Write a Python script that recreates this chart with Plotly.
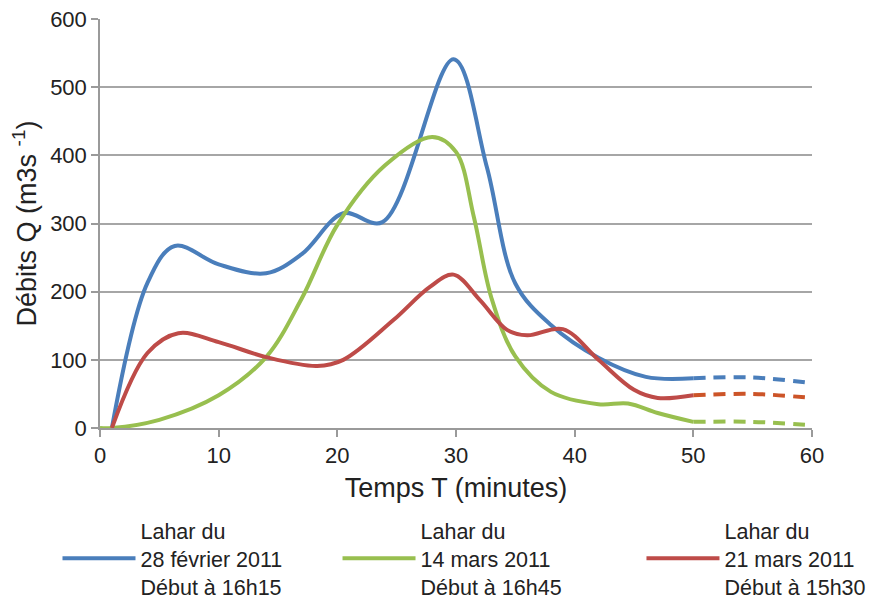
import plotly.graph_objects as go

# ---- data ----
t_blue = [1, 4, 6.3, 10, 14, 17, 20.5, 23.8, 29.8, 32.6, 35, 38, 42, 46, 50]
q_blue = [0, 213, 267, 240, 227, 255, 315, 302, 541, 383, 212, 151, 103, 75, 73]
t_blue_ext = [50, 55, 60]
q_blue_ext = [73, 74, 66]

t_green = [0, 1, 5, 10, 14, 17, 20, 24, 28, 30, 31.5, 33, 35, 38, 42, 44.5, 47, 50]
q_green = [0, 0, 12, 48, 104, 190, 298, 385, 427, 405, 310, 190, 105, 53, 35, 36, 22, 9]
t_green_ext = [50, 55, 60]
q_green_ext = [9, 9, 4]

t_red = [1, 4, 6.6, 10, 14, 18.3, 20.5, 24.7, 27.8, 29.8, 32, 34.3, 36, 39, 42, 45, 47, 50]
q_red = [0, 110, 139, 126, 104, 91, 100, 158, 207, 225, 188, 144, 136, 145, 100, 56, 44, 48]
t_red_ext = [50, 55, 60]
q_red_ext = [48, 50, 44]

names = ["Lahar du<br>28 février 2011<br>Début à 16h15",
         "Lahar du<br>14 mars 2011<br>Début à 16h45",
         "Lahar du<br>21 mars 2011<br>Début à 15h30"]
x_ticks = [0, 10, 20, 30, 40, 50, 60]
y_ticks = [0, 100, 200, 300, 400, 500, 600]

BLUE = "#4A7EBB"
GREEN = "#98BF4F"
RED = "#BE4B48"
RED_EXT = "#CC5428"
FONT = "Liberation Sans, Arial, sans-serif"

fig = go.Figure()
fig.add_trace(go.Scatter(x=t_blue, y=q_blue, mode="lines", name=names[0],
                         line=dict(color=BLUE, width=4, shape="spline", smoothing=1.0),
                         legend="legend"))
fig.add_trace(go.Scatter(x=t_green, y=q_green, mode="lines", name=names[1],
                         line=dict(color=GREEN, width=4, shape="spline", smoothing=1.0),
                         legend="legend2"))
fig.add_trace(go.Scatter(x=t_red, y=q_red, mode="lines", name=names[2],
                         line=dict(color=RED, width=4, shape="spline", smoothing=1.0),
                         legend="legend3"))
for tx, qy, c in [(t_blue_ext, q_blue_ext, BLUE), (t_green_ext, q_green_ext, GREEN),
                  (t_red_ext, q_red_ext, RED_EXT)]:
    fig.add_trace(go.Scatter(x=tx, y=qy, mode="lines", showlegend=False,
                             line=dict(color=c, width=4, dash="12px,8px", shape="spline")))

leg_common = dict(orientation="v", yanchor="top", y=-0.200, xanchor="left",
                  font=dict(family=FONT, size=21.5, color="#222222"),
                  bgcolor="rgba(0,0,0,0)", itemwidth=73)
fig.update_layout(
    width=869, height=593,
    margin=dict(l=92, r=65, t=11, b=173, autoexpand=False),
    paper_bgcolor="white", plot_bgcolor="white",
    font=dict(family=FONT, color="#222222"),
    legend=dict(leg_common, x=-0.0597),
    legend2=dict(leg_common, x=0.3336),
    legend3=dict(leg_common, x=0.7605),
    xaxis=dict(range=[0, 60], tickvals=x_ticks, showgrid=False, zeroline=False,
               showline=True, linecolor="#9a9a9a", linewidth=1.5,
               ticks="outside", ticklen=7, tickcolor="#9a9a9a", tickwidth=1.5,
               tickfont=dict(size=22, color="#222222"), automargin=False,
               ticklabeloverflow="allow",
               title=dict(text="Temps T (minutes)", font=dict(size=27, color="#222222"),
                          standoff=11)),
    yaxis=dict(range=[0, 600], tickvals=y_ticks, showgrid=True, gridcolor="#a6a6a6",
               gridwidth=1.5, zeroline=False,
               showline=True, linecolor="#9a9a9a", linewidth=1.5,
               ticks="outside", ticklen=7, tickcolor="#9a9a9a", tickwidth=1.5,
               tickfont=dict(size=22, color="#222222"), automargin=False,
               ticklabeloverflow="allow",
               title=dict(text="Débits Q (m3s <sup>-1</sup>)", font=dict(size=27, color="#222222"),
                          standoff=6)),
)
fig.write_html("out.html")
